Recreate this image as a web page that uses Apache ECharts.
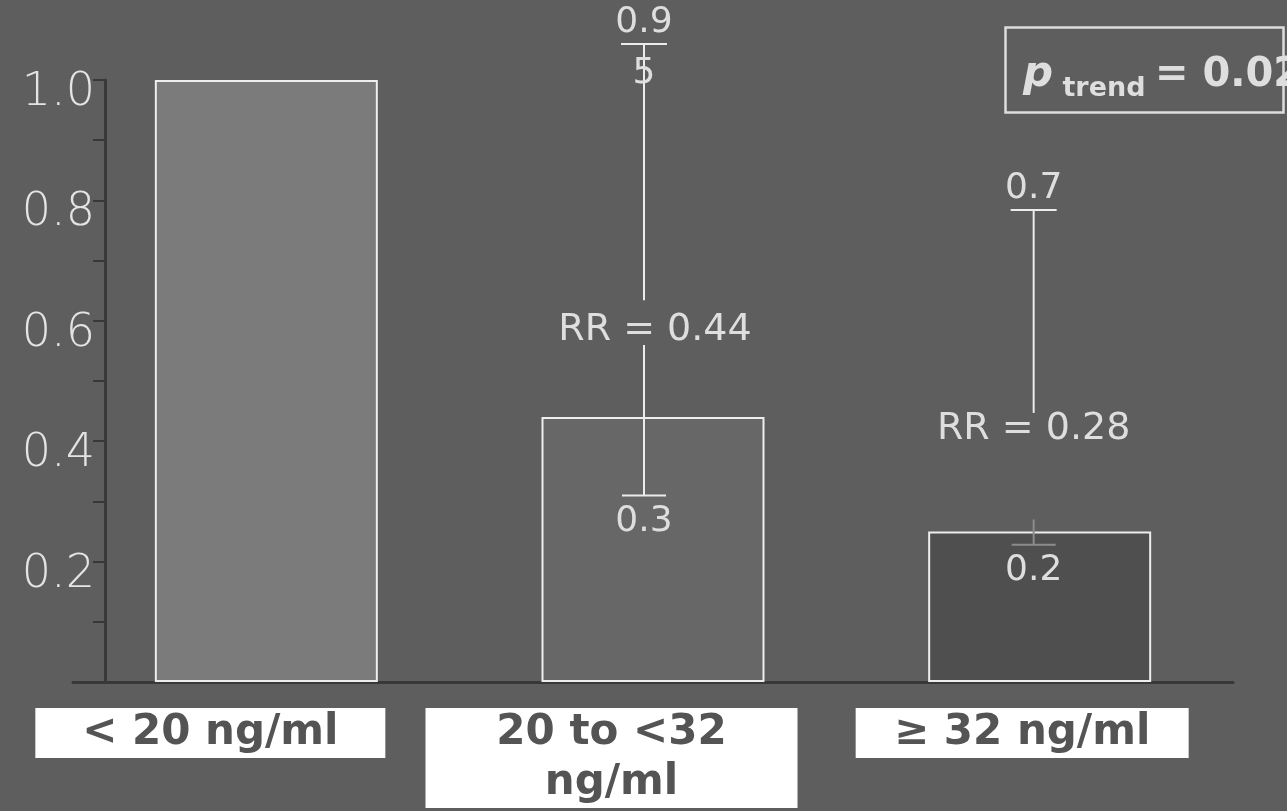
<!DOCTYPE html>
<html><head><meta charset="utf-8">
<script src="https://cdn.jsdelivr.net/npm/echarts@6/dist/echarts.min.js"></script>
<style>html,body{margin:0;padding:0;background:#5e5e5e;}#c{width:1287px;height:811px;}</style>
</head><body><div id="c"></div>
<script>
// ---- data ----
const categories = ['< 20 ng/ml', '20 to <32\nng/ml', '\u2265 32 ng/ml'];
const barValues = [1.0, 0.44, 0.25];
const rrLabels = ['', 'RR = 0.44', 'RR = 0.28'];
const ciLow = [null, 0.31, 0.228];
const ciHigh = [null, 1.06, 0.784];
const ciHighLabel = ['', '0.9', '0.7'];
const ciHighLabelBelow = ['', '5', ''];
const ciLowLabel = ['', '0.3', '0.2'];
const yTickLabels = [0.2, 0.4, 0.6, 0.8, 1.0];
const pTrendText = '= 0.02';

// ---- layout / style constants ----
const barColors = ['#7b7b7b', '#676767', '#4f4f4f'];
const rrLabelAt = [null, 0.585, 0.42];
const upperEnd = [null, 0.634, 0.447];
const lowerStart = [null, 0.56, 0.27];
const errDx = [0, -9, -6];
const rrDx = [0, 11, 0];
const lowSegColor = [null, '#ececec', '#8c8c8c'];
const txt = '#dedede';

const chart = echarts.init(document.getElementById('c'));

function renderItem(params, api) {
  const i = api.value(0);
  const top = api.coord([i, api.value(2)]);
  const bot = api.coord([i, api.value(1)]);
  const x = top[0] + errDx[i];
  const rrY = api.coord([i, rrLabelAt[i]])[1];
  const upY = api.coord([i, upperEnd[i]])[1];
  const loY = api.coord([i, lowerStart[i]])[1];
  const ls = {stroke: '#ececec', lineWidth: 2};
  const font = {fill: txt, fontFamily: 'DejaVu Sans', fontSize: 36, align: 'center', verticalAlign: 'middle'};
  const ch = [
    {type: 'line', shape: {x1: x, y1: top[1], x2: x, y2: upY}, style: ls},
    {type: 'line', shape: {x1: x, y1: loY, x2: x, y2: bot[1]}, style: {stroke: lowSegColor[i], lineWidth: 2}},
    {type: 'line', shape: {x1: x - 23, y1: top[1], x2: x + 23, y2: top[1]}, style: ls},
    {type: 'line', shape: {x1: x - 22, y1: bot[1], x2: x + 22, y2: bot[1]}, style: {stroke: lowSegColor[i], lineWidth: 2}},
    {type: 'text', style: Object.assign({}, font, {text: ciHighLabel[i], x: x, y: top[1] - 21})},
    {type: 'text', style: Object.assign({}, font, {text: ciHighLabelBelow[i], x: x, y: top[1] + 30})},
    {type: 'text', style: Object.assign({}, font, {text: ciLowLabel[i], x: x, y: bot[1] + 26})},
    {type: 'text', style: Object.assign({}, font, {text: rrLabels[i], x: x + rrDx[i], y: rrY, fontSize: 38})}
  ];
  return {type: 'group', children: ch};
}

const boxW = [350, 372, 333];
const spacer = [112, 83, 35];
const rich = {};
for (let i = 0; i < 3; i++) {
  rich['b' + i] = {width: boxW[i], height: 50, lineHeight: 50, backgroundColor: '#ffffff', align: 'center',
    color: '#545454', fontFamily: 'DejaVu Sans', fontWeight: 'bold', fontSize: 42};
  rich['s' + i] = {width: spacer[i], height: 50, lineHeight: 50};
}

const option = {
  backgroundColor: '#5e5e5e',
  animation: false,
  grid: {left: 73, right: 54, top: 80, bottom: 129, containLabel: false},
  xAxis: {
    type: 'category', data: categories,
    axisLine: {show: true, lineStyle: {color: '#383838', width: 3}},
    axisTick: {show: false},
    axisLabel: {
      interval: 0, margin: 26, verticalAlign: 'top',
      formatter: (v, i) => v.split('\n').map(l => '{b' + i + '|' + l + '}{s' + i + '|}').join('\n'),
      rich: rich
    }
  },
  yAxis: {
    type: 'value', min: 0, max: 1, interval: 0.1, offset: -32,
    axisLine: {show: true, lineStyle: {color: '#383838', width: 3}},
    axisTick: {show: true, length: 12, lineStyle: {color: '#383838', width: 2}},
    splitLine: {show: false},
    axisLabel: {
      margin: 10,
      formatter: v => yTickLabels.some(t => Math.abs(t - v) < 1e-6) ? '{a|' + v.toFixed(1) + '}' : '',
      rich: {a: {color: '#e4e4e4', fontSize: 46, fontFamily: 'DejaVu Sans', fontWeight: 200, padding: [26, 0, 0, 0]}}
    }
  },
  series: [
    {
      type: 'bar', barWidth: 223,
      data: barValues.map((v, i) => ({value: v, itemStyle: {color: barColors[i]}})),
      itemStyle: {borderColor: '#eeeeee', borderWidth: 2}
    },
    {
      type: 'custom', clip: false, renderItem: renderItem, z: 5,
      data: categories.map((c, i) => [i, ciLow[i], ciHigh[i]]).filter(d => d[1] != null)
    }
  ],
  graphic: [
    {type: 'rect', left: 1003, top: 25, shape: {width: 278, height: 85},
      style: {fill: 'none', stroke: '#dddddd', lineWidth: 2.5}},
    {type: 'text', left: 1023, top: 54, z: 10,
      style: {
        text: '{p|p}{t| trend }{e|' + pTrendText + '}',
        rich: {
          p: {fontFamily: 'DejaVu Sans', fontStyle: 'italic', fontWeight: 'bold', fontSize: 42, fill: txt, color: txt, verticalAlign: 'bottom'},
          t: {fontFamily: 'DejaVu Sans', fontWeight: 'bold', fontSize: 27, fill: txt, color: txt, verticalAlign: 'bottom', padding: [0, 0, -6, 0]},
          e: {fontFamily: 'DejaVu Sans', fontWeight: 'bold', fontSize: 40, fill: txt, color: txt, verticalAlign: 'bottom'}
        }
      }}
  ]
};
chart.setOption(option);
</script>
</body></html>
